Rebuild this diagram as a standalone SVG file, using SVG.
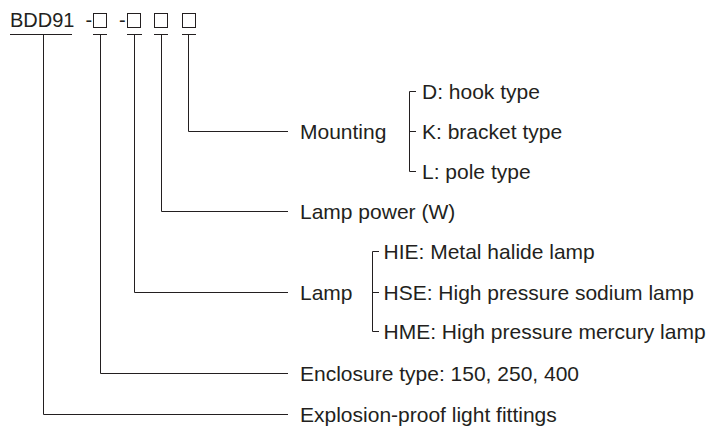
<svg xmlns="http://www.w3.org/2000/svg" width="713" height="428" viewBox="0 0 713 428">
<style>
text{font-family:"Liberation Sans",Arial,sans-serif;font-size:21px;fill:#231f20}
text.hd{font-size:20px}
.ln{stroke:#231f20;stroke-width:1;fill:none}
.bx{stroke:#231f20;stroke-width:1;fill:none}
</style>
<rect width="713" height="428" fill="#ffffff"/>
<g id="code">
<text class="hd" x="10" y="27">BDD91</text>
<text class="hd" x="85.5" y="27">-</text>
<text class="hd" x="119" y="27">-</text>
<rect class="bx" x="93.5" y="13.5" width="13" height="14"/>
<rect class="bx" x="127.5" y="13.5" width="13" height="14"/>
<rect class="bx" x="154.5" y="13.5" width="13" height="14"/>
<rect class="bx" x="182.5" y="13.5" width="13" height="14"/>
</g>
<g id="connectors">
<path class="ln" d="M10,34.5H72M43.5,34.5V414.5H288"/>
<path class="ln" d="M93,34.5H107M100.5,34.5V373.5H288"/>
<path class="ln" d="M127,34.5H142M134.5,34.5V292.5H288"/>
<path class="ln" d="M154,34.5H168M161.5,34.5V211.5H288"/>
<path class="ln" d="M182,34.5H196M188.5,34.5V131.5H288"/>
<path class="ln" d="M416,91.5H409.5V171.5H416M409.5,131.5H416"/>
<path class="ln" d="M379,251.5H372.5V331.5H379M372.5,292.5H379"/>
</g>
<g id="mounting"><text x="300" y="139">Mounting</text></g>
<g id="mount-d"><text x="422" y="99">D: hook type</text></g>
<g id="mount-k"><text x="422" y="139">K: bracket type</text></g>
<g id="mount-l"><text x="422" y="179">L: pole type</text></g>
<g id="power"><text x="300" y="219">Lamp power (W)</text></g>
<g id="lamp"><text x="300" y="300">Lamp</text></g>
<g id="lamp-hie"><text x="383.5" y="259">HIE: Metal halide lamp</text></g>
<g id="lamp-hse"><text x="383.5" y="300">HSE: High pressure sodium lamp</text></g>
<g id="lamp-hme"><text x="383.5" y="339">HME: High pressure mercury lamp</text></g>
<g id="enclosure"><text x="300" y="381">Enclosure type: 150, 250, 400</text></g>
<g id="explosion"><text x="300" y="422">Explosion-proof light fittings</text></g>
</svg>
